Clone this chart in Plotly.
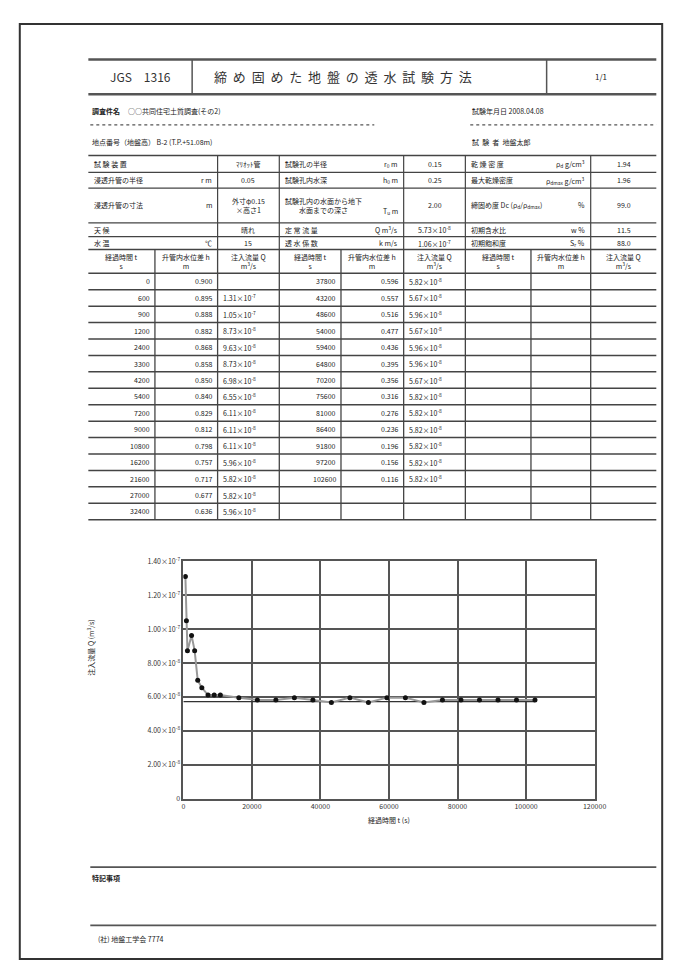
import plotly.graph_objects as go

W, H = 675, 963
FONT = "Noto Sans CJK JP"

# ---------------- data ----------------
time_a = [0, 600, 900, 1200, 2400, 3300, 4200, 5400, 7200, 9000, 10800, 16200, 21600, 27000, 32400]
head_a = [0.900, 0.895, 0.888, 0.882, 0.868, 0.858, 0.850, 0.840, 0.829, 0.812, 0.798, 0.757, 0.717, 0.677, 0.636]
flow_a = [None, 1.31e-7, 1.05e-7, 8.73e-8, 9.63e-8, 8.73e-8, 6.98e-8, 6.55e-8, 6.11e-8, 6.11e-8, 6.11e-8,
          5.96e-8, 5.82e-8, 5.82e-8, 5.96e-8]
time_b = [37800, 43200, 48600, 54000, 59400, 64800, 70200, 75600, 81000, 86400, 91800, 97200, 102600]
head_b = [0.596, 0.557, 0.516, 0.477, 0.436, 0.395, 0.356, 0.316, 0.276, 0.236, 0.196, 0.156, 0.116]
flow_b = [5.82e-8, 5.67e-8, 5.96e-8, 5.67e-8, 5.96e-8, 5.96e-8, 5.67e-8, 5.82e-8, 5.82e-8, 5.82e-8,
          5.82e-8, 5.82e-8, 5.82e-8]
steady_q = 5.73e-8

y_tickvals = [0, 2e-8, 4e-8, 6e-8, 8e-8, 1.0e-7, 1.2e-7, 1.4e-7]
y_ticktext = ["0", "2.00×10<sup>-8</sup>", "4.00×10<sup>-8</sup>", "6.00×10<sup>-8</sup>",
              "8.00×10<sup>-8</sup>", "1.00×10<sup>-7</sup>", "1.20×10<sup>-7</sup>", "1.40×10<sup>-7</sup>"]
x_tickvals = [0, 20000, 40000, 60000, 80000, 100000, 120000]
x_ticktext = ["0", "20000", "40000", "60000", "80000", "100000", "120000"]

info_rows = [
    ("試 験 装 置", "", "ﾏﾘｵｯﾄ管", "試験孔の半径", "r<sub>0</sub> m", "0.15", "乾 燥 密 度", "ρ<sub>d</sub> g/cm<sup>3</sup>", "1.94"),
    ("浸透升管の半径", "r m", "0.05", "試験孔内水深", "h<sub>0</sub> m", "0.25", "最大乾燥密度", "ρ<sub>dmax</sub> g/cm<sup>3</sup>", "1.96"),
    ("浸透升管の寸法", "m", "外寸φ0.15<br>×高さ1", "試験孔内の水面から地下<br>水面までの深さ", "T<sub>u</sub> m", "2.00", "締固め度 Dc (ρ<sub>d</sub>/ρ<sub>dmax</sub>)", "%", "99.0"),
    ("天 候", "", "晴れ", "定 常 流 量", "Q m<sup>3</sup>/s", "5.73×10<sup>-8</sup>", "初期含水比", "w %", "11.5"),
    ("水 温", "℃", "15", "透 水 係 数", "k m/s", "1.06×10<sup>-7</sup>", "初期飽和度", "S<sub>r</sub> %", "88.0"),
]
col_heads = ["経過時間 t<br>s", "升管内水位差 h<br>m", "注入流量 Q<br>m<sup>3</sup>/s"]


def fmt_q(q):
    if q is None:
        return ""
    s = f"{q:.2e}"
    m, e = s.split("e")
    return f"{m}×10<sup>{int(e)}</sup>"


# ---------------- helpers ----------------
shapes, annos = [], []


def X(x):
    return x / W


def Y(y):
    return 1 - y / H


def line(x0, y0, x1, y1, w=1.2, c="#444", dash="solid"):
    shapes.append(dict(type="line", xref="paper", yref="paper", x0=X(x0), y0=Y(y0), x1=X(x1), y1=Y(y1),
                       line=dict(color=c, width=w, dash=dash)))


def txt(x, y, s, size=7, anchor="left", color="#222", bold=False):
    if not s:
        return
    if bold:
        s = f"<b>{s}</b>"
    annos.append(dict(x=X(x), y=Y(y), xref="paper", yref="paper", text=s, showarrow=False,
                      xanchor=anchor, yanchor="middle", font=dict(size=size, family=FONT, color=color)))


# page frame
shapes.append(dict(type="rect", xref="paper", yref="paper", x0=X(10), y0=Y(955), x1=X(666), y1=Y(10),
                   line=dict(color="#333", width=2)))

# header box
line(80, 46, 660, 46, 2.5, "#555")
line(80, 81, 660, 81, 2.5, "#555")
line(186, 46, 186, 81, 1.5, "#555")
line(548, 46, 548, 81, 1.5, "#555")
txt(133, 63, "JGS　1316", 12, "center", "#333")
txt(340, 63, "  ".join("締め固めた地盤の透水試験方法"), 13, "center", "#333")
txt(604, 63, "1/1", 8, "center")

txt(82, 98, "調査件名", 7, bold=True)
txt(118, 98, "○○共同住宅土質調査(その2)", 7)
line(82, 112, 372, 112, 1.2, "#555", "dot")
txt(470, 98, "試験年月日 2008.04.08", 7)
line(470, 112, 660, 112, 1.2, "#555", "dot")
txt(82, 129, "地点番号（地盤高） B-2 (T.P.+51.08m)", 7)
txt(470, 129, "試  験  者  地盤太郎", 7)

# ---------------- table ----------------
row_y = [143, 160, 176, 211, 225, 238]
head_bottom = 262
row_h = 16.6
n_rows = 15
tab_bottom = head_bottom + row_h * n_rows

for yy in row_y + [head_bottom]:
    line(80, yy, 660, yy, 1.6 if yy in (143, 238, 262) else 1.2)
for i in range(1, n_rows + 1):
    line(80, head_bottom + row_h * i, 660, head_bottom + row_h * i, 1.5)

for xx in [212, 275, 402, 465, 593]:
    line(xx, 143, xx, 238, 1.2)
data_cols = [80, 148, 212, 275, 338, 402, 465, 532, 593, 660]
for xx in data_cols[1:-1]:
    line(xx, 238, xx, tab_bottom, 1.3)

for r, row in enumerate(info_rows):
    yc = (row_y[r] + row_y[r + 1]) / 2
    la, ua, vb, lc, uc, vd, le, ue, vf = row
    txt(84, yc, la, 7)
    txt(208, yc, ua, 7, "right")
    txt(243.5, yc, vb, 7, "center")
    txt(279, yc, lc, 7)
    txt(398, yc + (6 if r == 2 else 0), uc, 7, "right")
    txt(433.5, yc, vd, 7, "center")
    txt(469, yc, le, 7)
    txt(589, yc, ue, 7, "right")
    txt(626.5, yc, vf, 7, "center")

for k in range(9):
    xc = (data_cols[k] + data_cols[k + 1]) / 2
    txt(xc, (238 + head_bottom) / 2, col_heads[k % 3], 7, "center")

for i in range(n_rows):
    yc = head_bottom + row_h * (i + 0.5)
    txt(data_cols[1] - 3, yc, f"{time_a[i]}", 7, "right")
    txt(data_cols[2] - 3, yc, f"{head_a[i]:.3f}", 7, "right")
    txt(data_cols[2] + 3, yc, fmt_q(flow_a[i]), 7, "left")
    if i < len(time_b):
        txt(data_cols[4] - 3, yc, f"{time_b[i]}", 7, "right")
        txt(data_cols[5] - 3, yc, f"{head_b[i]:.3f}", 7, "right")
        txt(data_cols[5] + 3, yc, fmt_q(flow_b[i]), 7, "left")

# ---------------- chart ----------------
times = time_a[1:] + time_b
flows = flow_a[1:] + flow_b

fig = go.Figure()
fig.add_trace(go.Scatter(x=[0, time_b[-1]], y=[steady_q, steady_q], mode="lines",
                         line=dict(color="#333", width=1.2), showlegend=False))
fig.add_trace(go.Scatter(x=times, y=flows, mode="lines+markers",
                         line=dict(color="#999", width=2),
                         marker=dict(color="#111", size=5, symbol="circle"), showlegend=False))

axis_common = dict(showgrid=True, gridcolor="#555", gridwidth=1.5, showline=True, linecolor="#555",
                   linewidth=1.5, mirror=True, zeroline=False, ticks="",
                   tickfont=dict(size=7, family=FONT, color="#333"))

txt(387, 814, "経過時間 t (s)", 7, "center")
annos.append(dict(x=X(82), y=Y(640), xref="paper", yref="paper", text="注入流量 Q (m<sup>3</sup>/s)",
                  showarrow=False, textangle=-90, xanchor="center", yanchor="middle",
                  font=dict(size=7, family=FONT, color="#222")))

# ---------------- footer ----------------
line(82, 862, 660, 862, 1.8, "#555")
txt(82, 873, "特記事項", 7, bold=True)
line(82, 921, 660, 921, 1.8, "#555")
txt(88, 935, "(社) 地盤工学会 7774", 7)

fig.update_layout(
    width=W, height=H, margin=dict(l=0, r=0, t=0, b=0),
    paper_bgcolor="white", plot_bgcolor="white", showlegend=False,
    xaxis=dict(domain=[X(177), X(597)], range=[0, 120000], tickvals=x_tickvals, ticktext=x_ticktext,
               **axis_common),
    yaxis=dict(domain=[Y(793), Y(553)], range=[0, 1.4e-7], tickvals=y_tickvals, ticktext=y_ticktext,
               **axis_common),
    shapes=shapes,
    annotations=annos,
)
fig.write_html("out.html")
